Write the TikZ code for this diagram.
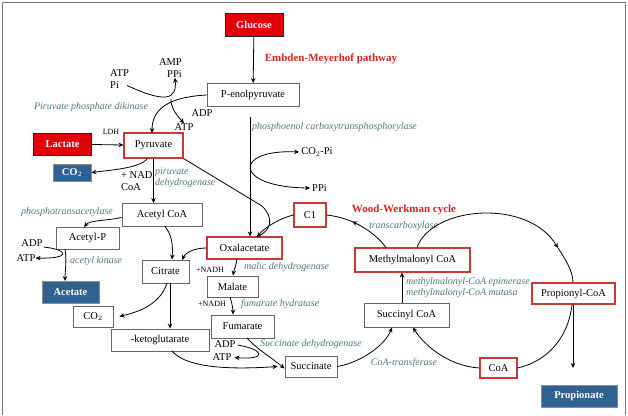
\documentclass[tikz,border=0pt]{standalone}
\usepackage{fontspec}
\setmainfont{Liberation Serif}
\usepackage{xcolor}
\usepackage{tikz}
\usetikzlibrary{arrows.meta, positioning, decorations.markings}
\definecolor{glured}{RGB}{228,0,8}
\definecolor{acblue}{RGB}{47,98,146}
\definecolor{boxred}{RGB}{200,58,52}
\definecolor{enzteal}{RGB}{78,122,124}
\definecolor{titlered}{RGB}{208,38,34}
\definecolor{framegray}{RGB}{120,120,120}
\tikzset{
    wh/.style 2 args={minimum width=#1pt, minimum height=#2pt},
    metab/.style={rectangle, draw=black!60, line width=0.9pt, fill=white, inner sep=0pt, font=\fontsize{10.5}{12}\selectfont},
    keymetab/.style={metab, draw=boxred, line width=1.1pt},
    source/.style={metab, draw=black!85, fill=glured, text=white, font=\fontsize{10.5}{12}\selectfont\bfseries},
    product/.style={metab, draw=black!45, fill=acblue, text=white, font=\fontsize{10.5}{12}\selectfont\bfseries},
    enzyme/.style={font=\fontsize{10}{11}\selectfont\itshape, text=enzteal, inner sep=0pt, align=left},
    cofactor/.style={font=\fontsize{10.5}{12}\selectfont, inner sep=0pt},
    smallcof/.style={font=\fontsize{8}{9}\selectfont, inner sep=0pt},
    pathway/.style={font=\fontsize{11}{12}\selectfont\bfseries, text=titlered, inner sep=0pt},
    arrow/.style={-{Stealth[length=5pt,width=4.5pt]}, line width=0.8pt},
    plain/.style={line width=0.8pt},
    midarrow/.style={line width=0.8pt, postaction={decorate},
        decoration={markings, mark=at position #1 with {\arrow{Stealth[length=5pt,width=4.5pt]}}}}
}

\begin{document}
\begin{tikzpicture}[x=1pt, y=-1pt]
    \useasboundingbox (0,0) rectangle (628,415);
    % Frame
    \draw[framegray, line width=1pt] (2,415) -- (2,2) -- (625,2) -- (625,415);

    % Embden-Meyerhof part
    \node[source, wh={58}{23}] (glucose) at (254,24.5) {Glucose};
    \node[metab, wh={92}{23}] (pep) at (253,95) {P-enolpyruvate};
    \node[pathway] (emp) at (331,59) {Embden-Meyerhof pathway};
    \node[cofactor, align=left, anchor=west] (atppi) at (110,79.5) {ATP\\Pi};
    \node[cofactor, align=right, anchor=east] (amppi) at (182,68) {AMP\\PPi};
    \node[cofactor] (adp1) at (202,113) {ADP};
    \node[cofactor] (atp1) at (184,127) {ATP};
    \node[enzyme] (ppdk) at (91,107) {Piruvate phosphate dikinase};

    \node[source, wh={58}{22}] (lactate) at (62.5,144) {Lactate};
    \node[keymetab, wh={59}{25}] (pyr) at (153.5,145.5) {Pyruvate};
    \node[smallcof] (ldh) at (111,132) {LDH};
    \node[product, wh={38}{17}] (co2a) at (72,172.5) {CO$_2$};
    \node[cofactor, align=left, anchor=west] (nadcoa) at (121,181) {+ NAD,\\CoA};
    \node[enzyme, anchor=west] (pdh) at (155,178) {piruvate\\dehydrogenase};

    \draw[arrow] (glucose) -- (pep);
    \draw[arrow] (pep.west) .. controls (170,97) and (152,108) .. (152,133);
    \draw[arrow] (atppi.east) ++(-2,6) .. controls (165,103) and (177,100) .. (amppi.south -| 175,0);
    \draw[arrow] (171,99) .. controls (171,107) and (174,112) .. (atp1.north);
    \draw[arrow] (lactate) -- (pyr);
    \draw[arrow] (pyr.south) ++(-6,0) .. controls (140,168) and (112,170) .. (co2a.east);
    \draw[arrow] (pyr.south) -- (pyr.south |- 0,203);

    % Acetate branch
    \node[metab, wh={80}{23}] (acoa) at (162,214.5) {Acetyl CoA};
    \node[enzyme] (ptac) at (67,212) {phosphotransacetylase};
    \node[metab, wh={63}{22}] (acp) at (87.5,238) {Acetyl-P};
    \node[cofactor] (adp2) at (32,243) {ADP};
    \node[cofactor] (atp2) at (26,258) {ATP};
    \node[enzyme, anchor=west] (ackin) at (70,261) {acetyl kinase};
    \node[product, wh={57}{22}] (acetate) at (70.5,292) {Acetate};

    \draw[arrow] (acoa.west) ++(0,3) .. controls (105,221) and (90,220) .. (84,227);
    \draw[arrow] (65,249) .. controls (67,262) and (65,270) .. (65,281);
    \draw[arrow] (adp2.east) ++(1,4) .. controls (70,250) and (70,259) .. (atp2.east);

    % Oxalacetate, citrate and fumarate
    \node[keymetab, wh={75}{22}] (oaa) at (244.5,248) {Oxalacetate};
    \node[metab, wh={47}{23}] (cit) at (165.5,271.5) {Citrate};
    \node[metab, wh={51}{21}] (malate) at (232.5,286.5) {Malate};
    \node[metab, wh={63}{23}] (fum) at (242.5,326.5) {Fumarate};
    \node[metab, wh={98}{22}] (akg) at (160,340) {-ketoglutarate};
    \node[metab, wh={40}{21}] (co2b) at (93,316.5) {CO$_2$};
    \node[metab, wh={52}{21}] (succ) at (311,366.5) {Succinate};
    \node[smallcof] (nadh1) at (210,270) {+NADH};
    \node[enzyme, anchor=west] (mdh) at (244,267) {malic dehydrogenase};
    \node[smallcof] (nadh2) at (212,304) {+NADH};
    \node[enzyme, anchor=west] (fumhyd) at (241,304) {fumarate hydratase};
    \node[cofactor] (adp3) at (225,344) {ADP};
    \node[cofactor] (atp3) at (222,357.5) {ATP};
    \node[enzyme, anchor=west] (sdh) at (260,344) {Succinate dehydrogenase};

    \node[enzyme, anchor=west] (pepcl) at (252,127) {phosphoenol carboxytransphosphorylase};
    \node[cofactor] (co2pi) at (317,152) {CO$_2$-Pi};
    \node[cofactor] (ppi2) at (319.5,188) {PPi};
    \node[keymetab, wh={32}{24}] (c1) at (310,215) {C1};

    \draw[arrow] (250,117) -- (oaa.north -| 250,0);
    \draw[{Stealth[length=5pt,width=4.5pt]}-{Stealth[length=5pt,width=4.5pt]}, line width=0.8pt]
        ([xshift=-2pt]co2pi.west) .. controls (233,149) and (233,187) .. ([xshift=-2pt]ppi2.west);
    \draw[plain] (pyr.south east) -- (262,206) .. controls (274,218) and (272,230) .. (257,237);
    \draw[arrow] (c1.west) .. controls (280,218) and (264,228) .. (257,237);
    \draw[arrow] (oaa.west) .. controls (195,248) and (186,252) .. (182,260);
    \draw[arrow] (acoa.south) ++(3,0) .. controls (172,235) and (173,245) .. (172,259.5);
    \draw[arrow] (237,259) .. controls (236,266) and (234,270) .. (malate.north -| 233,0);
    \draw[arrow] (230,297) .. controls (232,303) and (233,309) .. (fum.north -| 233,0);
    \draw[arrow] (cit.south -| 170,0) -- (akg.north -| 170,0);
    \draw[arrow] (167,283) .. controls (160,305) and (138,312) .. ([xshift=6pt]co2b.east);
    \draw[arrow] (172,351) .. controls (188,370) and (240,369) .. ([xshift=-7pt]succ.west);
    \draw[arrow] (247,338) .. controls (258,350) and (272,358) .. ([yshift=-2pt]succ.west);
    \draw[arrow] (adp3.east) ++(2,1) .. controls (266,350) and (266,360) .. ([xshift=3pt]atp3.east);

    % Wood-Werkman cycle
    \node[pathway] (wwc) at (404,210) {Wood-Werkman cycle};
    \node[enzyme] (transcarb) at (403.5,226) {transcarboxylase};
    \node[keymetab, wh={115}{24}] (mmcoa) at (412.5,260) {Methylmalonyl CoA};
    \node[enzyme, anchor=west] (mmepi) at (406,287.5) {methylmalonyl-CoA epimerase\\methylmalonyl-CoA mutasa};
    \node[keymetab, wh={83}{21}] (propcoa) at (573.5,293.5) {Propionyl-CoA};
    \node[product, wh={76}{22}] (propionate) at (579,396) {Propionate};
    \node[keymetab, wh={37}{20}] (coa) at (498.5,368) {CoA};
    \node[metab, wh={85}{24}] (succoa) at (406.5,315) {Succinyl CoA};
    \node[enzyme] (coatrans) at (404,363) {CoA-transferase};
    \coordinate (cyclemid) at (558,248);

    \draw[midarrow=0.62] (mmcoa.north -| 386,0) .. controls (376,234) and (355,218) .. (c1.east);
    \draw[arrow] (mmcoa.north -| 417,0) .. controls (432,206) and (528,198) .. (cyclemid);
    \draw[plain] (cyclemid) .. controls (566,260) and (573,272) .. (propcoa.north -| 573,0);
    \draw[arrow] (propcoa.south -| 573,0) -- (573,368);
    \draw[plain] (propcoa.south -| 572,0) .. controls (568,340) and (545,362) .. (coa.east);
    \draw[arrow] (coa.west) .. controls (448,366) and (424,345) .. (succoa.south -| 413,0);
    \draw[arrow] (succ.east) .. controls (362,362) and (385,345) .. (succoa.south -| 392,0);
    \draw[arrow] (succoa.north -| 402,0) -- (mmcoa.south -| 402,0);
\end{tikzpicture}
\end{document}
